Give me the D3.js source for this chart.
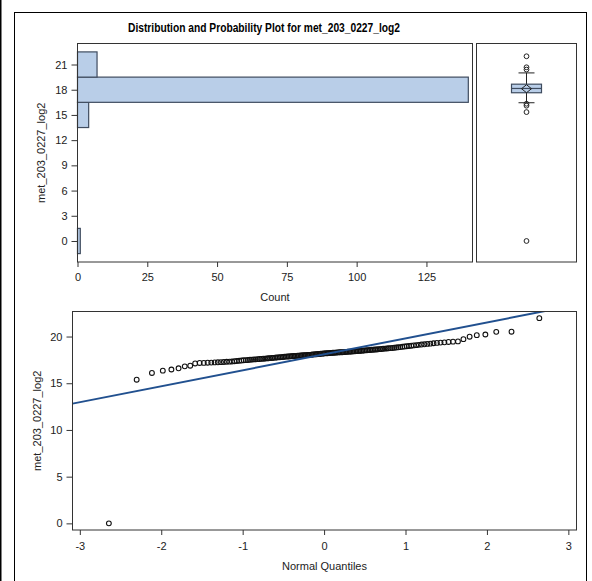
<!DOCTYPE html>
<html>
<head>
<meta charset="utf-8">
<script src="https://cdn.jsdelivr.net/npm/d3@7"></script>
<style>
	body { margin: 0; background: #fff; }
	svg { display: block; font-family: "Liberation Sans", Arial, sans-serif; }
</style>
</head>
<body>
<div id="chart"></div>
<script>
// sorted values of met_203_0227_log2 (n = 152)
const values = [
	0, 15.38, 16.10, 16.35, 16.47, 16.60, 16.81, 16.88, 17.12,
	17.17, 17.18, 17.20, 17.21, 17.23, 17.24, 17.26, 17.28, 17.30, 17.31,
	17.33, 17.36, 17.38, 17.41, 17.43, 17.46, 17.47, 17.49, 17.51, 17.53,
	17.55, 17.56, 17.58, 17.59, 17.61, 17.63, 17.64, 17.66, 17.67, 17.69,
	17.71, 17.72, 17.74, 17.75, 17.77, 17.78, 17.80, 17.81, 17.83, 17.85,
	17.86, 17.87, 17.89, 17.90, 17.91, 17.92, 17.93, 17.95, 17.96, 17.97,
	17.98, 17.99, 18.00, 18.01, 18.02, 18.03, 18.04, 18.06, 18.07, 18.09,
	18.10, 18.11, 18.13, 18.14, 18.16, 18.17, 18.19, 18.20, 18.21, 18.21,
	18.22, 18.23, 18.25, 18.26, 18.27, 18.28, 18.29, 18.30, 18.31, 18.31,
	18.32, 18.33, 18.34, 18.36, 18.37, 18.38, 18.39, 18.40, 18.42, 18.43,
	18.44, 18.45, 18.46, 18.48, 18.49, 18.50, 18.52, 18.53, 18.55, 18.56,
	18.58, 18.59, 18.61, 18.62, 18.64, 18.65, 18.67, 18.69, 18.71, 18.72,
	18.74, 18.76, 18.78, 18.80, 18.82, 18.85, 18.87, 18.90, 18.93, 18.96,
	18.99, 19.02, 19.05, 19.08, 19.11, 19.14, 19.17, 19.21, 19.24, 19.28,
	19.32, 19.35, 19.38, 19.42, 19.45, 19.48, 19.72, 19.98, 20.15, 20.22,
	20.50, 20.52, 21.97
];

const binEdges = [-1.5, 1.5, 4.5, 7.5, 10.5, 13.5, 16.5, 19.5, 22.5];
const histYTicks = [0, 3, 6, 9, 12, 15, 18, 21];
const histXTicks = [0, 25, 50, 75, 100, 125];
const qqXTicks = [-3, -2, -1, 0, 1, 2, 3];
const qqYTicks = [0, 5, 10, 15, 20];

// box plot summary as drawn
const boxQuartiles = [17.64, 18.15, 18.66];
const boxWhiskers = [16.45, 20.0];
const boxMean = 18.12;
const boxOutliers = [0, 15.34, 16.1, 16.33, 20.4, 20.67, 21.98];

const varName = "met_203_0227_log2";
const W = 592, H = 581;
const fillColor = "#b9cee8";
const edgeColor = "#3f4c5f";
const lineColor = "#21508f";
const textColor = "#222";
const plain = d => String(d);

const svg = d3.select("#chart").append("svg")
	.attr("width", W)
	.attr("height", H);

// outer frame
svg.append("line")
	.attr("x1", 0.5).attr("x2", 0.5).attr("y1", 0).attr("y2", H)
	.attr("stroke", "#000").attr("stroke-width", 2);
svg.append("rect")
	.attr("x", 14.5).attr("y", 12.5)
	.attr("width", 572).attr("height", H)
	.attr("fill", "none").attr("stroke", "#000");

svg.append("text")
	.attr("x", 264).attr("y", 32)
	.attr("text-anchor", "middle")
	.attr("font-size", 12).attr("font-weight", "bold")
	.attr("textLength", 272).attr("lengthAdjust", "spacingAndGlyphs")
	.attr("fill", "#000")
	.text(`Distribution and Probability Plot for ${varName}`);

// ---------- histogram ----------
const hist = { left: 77.5, right: 472.5, top: 43.5, bottom: 262 };

const hx = d3.scaleLinear().domain([0, 141.5]).range([hist.left, hist.right]);
const hy = d3.scaleLinear().domain([-2.5, 23.5]).range([hist.bottom, hist.top]);

const bins = d3.bin()
	.domain([binEdges[0], binEdges[binEdges.length - 1]])
	.thresholds(binEdges)(values)
	.filter(b => b.length > 0);

svg.append("g")
	.selectAll("rect")
	.data(bins)
	.join("rect")
	.attr("x", hx(0))
	.attr("y", d => hy(d.x1))
	.attr("width", d => hx(d.length) - hx(0))
	.attr("height", d => hy(d.x0) - hy(d.x1))
	.attr("fill", fillColor)
	.attr("stroke", edgeColor)
	.attr("stroke-width", 1.2);

svg.append("rect")
	.attr("x", hist.left).attr("y", hist.top)
	.attr("width", hist.right - hist.left).attr("height", hist.bottom - hist.top)
	.attr("fill", "none").attr("stroke", "#333");

svg.append("g")
	.attr("class", "axis")
	.attr("transform", `translate(0,${hist.bottom})`)
	.call(d3.axisBottom(hx).tickValues(histXTicks).tickFormat(plain).tickSize(5).tickPadding(6));

svg.append("g")
	.attr("class", "axis")
	.attr("transform", `translate(${hist.left},0)`)
	.call(d3.axisLeft(hy).tickValues(histYTicks).tickFormat(plain).tickSize(6).tickPadding(4));

svg.append("text")
	.attr("x", (hist.left + hist.right) / 2).attr("y", 301)
	.attr("text-anchor", "middle").attr("font-size", 11).attr("fill", textColor)
	.text("Count");

svg.append("text")
	.attr("transform", `translate(45,${(hist.top + hist.bottom) / 2}) rotate(-90)`)
	.attr("text-anchor", "middle").attr("font-size", 11).attr("fill", textColor)
	.text(varName);

// ---------- box plot ----------
const box = { left: 476.5, right: 576.5 };
const bx = d3.scalePoint().domain([varName]).range([box.left, box.right]).padding(0.5);
const cx = bx(varName);
const boxW = 30, capW = 16;

svg.append("rect")
	.attr("x", box.left).attr("y", hist.top)
	.attr("width", box.right - box.left).attr("height", hist.bottom - hist.top)
	.attr("fill", "none").attr("stroke", "#333");

const bg = svg.append("g");
bg.append("line")
	.attr("x1", cx).attr("x2", cx)
	.attr("y1", hy(boxWhiskers[0])).attr("y2", hy(boxWhiskers[1]))
	.attr("stroke", "#222");
bg.selectAll(".cap")
	.data(boxWhiskers)
	.join("line")
	.attr("class", "cap")
	.attr("x1", cx - capW / 2).attr("x2", cx + capW / 2)
	.attr("y1", d => hy(d)).attr("y2", d => hy(d))
	.attr("stroke", "#222");
bg.append("rect")
	.attr("x", cx - boxW / 2).attr("width", boxW)
	.attr("y", hy(boxQuartiles[2]))
	.attr("height", hy(boxQuartiles[0]) - hy(boxQuartiles[2]))
	.attr("fill", fillColor).attr("stroke", edgeColor).attr("stroke-width", 1.2);
bg.append("line")
	.attr("x1", cx - boxW / 2).attr("x2", cx + boxW / 2)
	.attr("y1", hy(boxQuartiles[1])).attr("y2", hy(boxQuartiles[1]))
	.attr("stroke", edgeColor).attr("stroke-width", 1.2);
bg.append("path")
	.attr("d", `M${cx - 5},${hy(boxMean)} L${cx},${hy(boxMean) - 4} L${cx + 5},${hy(boxMean)} L${cx},${hy(boxMean) + 4} Z`)
	.attr("fill", "none").attr("stroke", "#222");
bg.selectAll(".out")
	.data(boxOutliers)
	.join("circle")
	.attr("class", "out")
	.attr("cx", cx).attr("cy", d => hy(d))
	.attr("r", 2.4)
	.attr("fill", "none").attr("stroke", "#222").attr("stroke-width", 1);

// ---------- normal probability plot ----------
const qq = { left: 72.5, right: 576.5, top: 311.5, bottom: 530 };
const qx = d3.scaleLinear().domain([-3.09, 3.1]).range([qq.left, qq.right]);
const qy = d3.scaleLinear().domain([-0.71, 22.68]).range([qq.bottom, qq.top]);

// inverse standard normal cdf (Acklam)
function probit(p) {
	const a = [-39.6968302866538, 220.946098424521, -275.928510446969, 138.357751867269, -30.6647980661472, 2.50662827745924];
	const b = [-54.4760987982241, 161.585836858041, -155.698979859887, 66.8013118877197, -13.2806815528857];
	const c = [-0.00778489400243029, -0.322396458041136, -2.40075827716184, -2.54973253934373, 4.37466414146497, 2.93816398269878];
	const d = [0.00778469570904146, 0.32246712907004, 2.445134137143, 3.75440866190742];
	const pl = 0.02425;
	let q, r;
	if (p < pl) {
		q = Math.sqrt(-2 * Math.log(p));
		return (((((c[0] * q + c[1]) * q + c[2]) * q + c[3]) * q + c[4]) * q + c[5]) /
			((((d[0] * q + d[1]) * q + d[2]) * q + d[3]) * q + 1);
	}
	if (p > 1 - pl) {
		q = Math.sqrt(-2 * Math.log(1 - p));
		return -(((((c[0] * q + c[1]) * q + c[2]) * q + c[3]) * q + c[4]) * q + c[5]) /
			((((d[0] * q + d[1]) * q + d[2]) * q + d[3]) * q + 1);
	}
	q = p - 0.5;
	r = q * q;
	return (((((a[0] * r + a[1]) * r + a[2]) * r + a[3]) * r + a[4]) * r + a[5]) * q /
		(((((b[0] * r + b[1]) * r + b[2]) * r + b[3]) * r + b[4]) * r + 1);
}

const n = values.length;
const sorted = values.slice().sort((a, b) => a - b);
const qqData = sorted.map((v, i) => ({ q: probit((i + 1 - 0.375) / (n + 0.25)), v }));
const mu = d3.mean(values);
const sigma = d3.deviation(values);

svg.append("clipPath").attr("id", "qqClip")
	.append("rect")
	.attr("x", qq.left).attr("y", qq.top)
	.attr("width", qq.right - qq.left).attr("height", qq.bottom - qq.top);

svg.append("g")
	.selectAll("circle")
	.data(qqData)
	.join("circle")
	.attr("cx", d => qx(d.q))
	.attr("cy", d => qy(d.v))
	.attr("r", 2.4)
	.attr("fill", "none")
	.attr("stroke", "#111")
	.attr("stroke-width", 1.1);

const dom = qx.domain();
svg.append("line")
	.attr("clip-path", "url(#qqClip)")
	.attr("x1", qx(dom[0])).attr("y1", qy(mu + sigma * dom[0]))
	.attr("x2", qx(dom[1])).attr("y2", qy(mu + sigma * dom[1]))
	.attr("stroke", lineColor).attr("stroke-width", 2);

svg.append("rect")
	.attr("x", qq.left).attr("y", qq.top)
	.attr("width", qq.right - qq.left).attr("height", qq.bottom - qq.top)
	.attr("fill", "none").attr("stroke", "#333");

svg.append("g")
	.attr("class", "axis")
	.attr("transform", `translate(0,${qq.bottom})`)
	.call(d3.axisBottom(qx).tickValues(qqXTicks).tickFormat(plain).tickSize(5).tickPadding(7));

svg.append("g")
	.attr("class", "axis")
	.attr("transform", `translate(${qq.left},0)`)
	.call(d3.axisLeft(qy).tickValues(qqYTicks).tickFormat(plain).tickSize(6).tickPadding(4));

svg.append("text")
	.attr("x", (qq.left + qq.right) / 2).attr("y", 570)
	.attr("text-anchor", "middle").attr("font-size", 11).attr("fill", textColor)
	.text("Normal Quantiles");

svg.append("text")
	.attr("transform", `translate(41,${(qq.top + qq.bottom) / 2}) rotate(-90)`)
	.attr("text-anchor", "middle").attr("font-size", 11).attr("fill", textColor)
	.text(varName);

// axis styling
svg.selectAll(".axis .domain").remove();
svg.selectAll(".axis text")
	.attr("font-size", 11)
	.attr("font-family", "\"Liberation Sans\", Arial, sans-serif")
	.attr("fill", textColor);
svg.selectAll(".axis line").attr("stroke", "#333");
</script>
</body>
</html>
